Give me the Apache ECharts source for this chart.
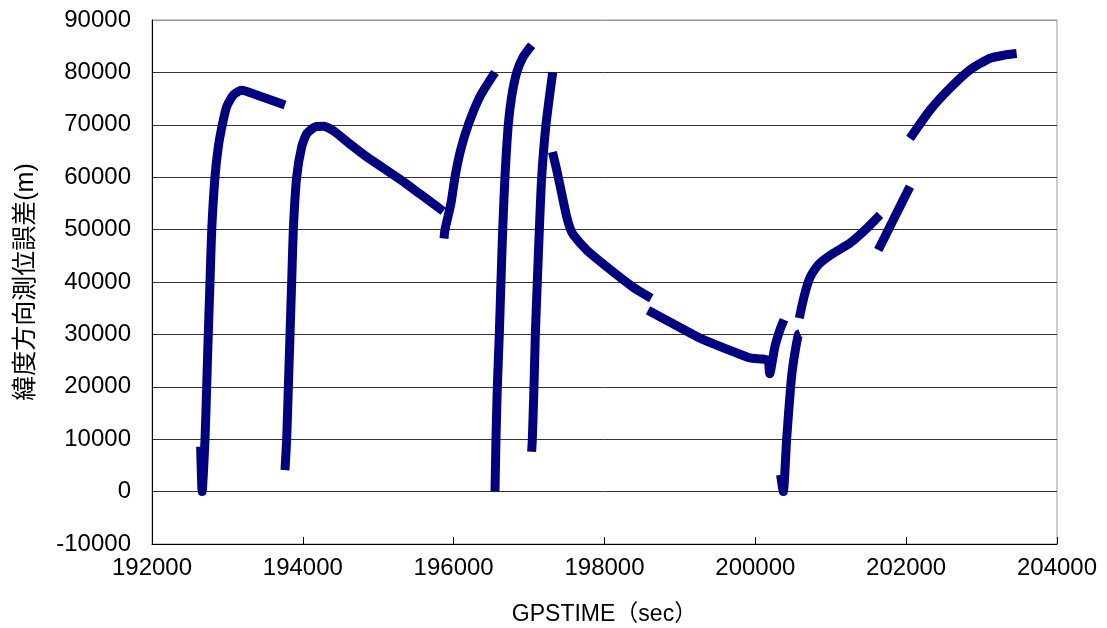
<!DOCTYPE html>
<html>
<head>
<meta charset="utf-8">
<script src="https://cdn.jsdelivr.net/npm/echarts@6/dist/echarts.min.js"></script>
<style>
  html, body { margin: 0; padding: 0; background: #fff; }
  #chart { width: 1107px; height: 628px; }
</style>
</head>
<body>
<div id="chart"></div>
<script>
// GPS time (sec) and latitude-direction position error (m); null marks a gap in the track
const gpsTime = [
  192645, 192665, 192703, 192725, 192746, 192769, 192792, 192835, 192879, 192932, 192990, 193078, 193189, 193388, 193763, null,
  193763, 193786, 193808, 193830, 193852, 193874, 193918, 193985, 194051, 194161, 194271, 194400, 194600, 194846, 195288, 195553, 195862, null,
  195872, 195885, 195964, 196017, 196093, 196194, 196349, 196548, null,
  196548, 196561, 196579, 196605, 196627, 196650, 196680, 196724, 196769, 196836, 196923, 197034, null,
  197034, 197043, 197065, 197083, 197109, 197136, 197167, 197224, 197313, null,
  197310, 197366, 197432, 197498, 197545, 197586, 197763, 198029, 198380, 198620, null,
  198577, 198822, 199266, 199708, 199929, 200100, 200170, 200190, 200260, 200327, 200380, null,
  200335, 200371, 200415, 200468, 200503, 200570, 200592, null,
  200583, 200636, 200690, 200740, 200857, 201034, 201255, 201476, 201653, null,
  201630, 201830, 202050, null,
  202050, 202316, 202581, 202846, 203111, 203300, 203465
];
const latError = [
  8600, 0, 10000, 20000, 30000, 40000, 50000, 60000, 65800, 70000, 73450, 75700, 76600, 75700, 73800, null,
  4100, 10000, 20000, 30000, 40000, 50000, 60000, 65800, 68300, 69600, 69700, 68900, 66600, 63900, 59600, 56800, 53500, null,
  48300, 50000, 55000, 60000, 65200, 70000, 75400, 80000, null,
  0, 10000, 20000, 30000, 40000, 50000, 60000, 70000, 75400, 80000, 83000, 85200, null,
  7600, 10000, 20000, 30000, 40000, 50000, 60000, 70000, 80000, null,
  64800, 61400, 56900, 52500, 50200, 49000, 46100, 42900, 39000, 36900, null,
  34600, 32700, 29300, 26700, 25500, 25300, 25000, 22500, 27700, 30900, 32800, null,
  3200, 0, 10000, 20000, 24500, 30000, 30200, null,
  33100, 36600, 39500, 41300, 43600, 45500, 47400, 50200, 52800, null,
  46100, 51900, 58200, null,
  67400, 72800, 77000, 80500, 82700, 83300, 83600
];

const xName = 'GPSTIME（sec）';
const yName = '緯度方向測位誤差(m)';

// pair up the points; '-' breaks the line between tracks
const points = gpsTime.map((t, i) => (t === null ? ['-', '-'] : [t, latError[i]]));

const font = "'Liberation Sans', Arial, 'Noto Sans CJK JP', sans-serif";
const gridColors = ['#333', '#333', '#333', '#333', '#333', '#333', '#333', '#333', '#333', '#333', '#999'];

const chart = echarts.init(document.getElementById('chart'), null, { renderer: 'canvas' });
chart.setOption({
  animation: false,
  backgroundColor: '#fff',
  grid: {
    left: 152, right: 50, top: 20, bottom: 84,
    outerBoundsMode: 'none',
    containLabel: false,
    show: true, borderColor: '#999', borderWidth: 1, backgroundColor: 'transparent'
  },
  xAxis: {
    type: 'value',
    min: 192000, max: 204000, interval: 2000,
    name: xName,
    nameLocation: 'middle',
    nameGap: 59,
    nameTextStyle: { fontFamily: font, fontSize: 23, color: '#000' },
    axisLine: { show: true, onZero: false, lineStyle: { color: '#000', width: 1 } },
    axisTick: { show: true, inside: true, length: 7, lineStyle: { color: '#000' } },
    axisLabel: { fontFamily: font, fontSize: 24, color: '#000', margin: 12, formatter: (v) => String(v) },
    splitLine: { show: false }
  },
  yAxis: {
    type: 'value',
    min: -10000, max: 90000, interval: 10000,
    name: yName,
    nameLocation: 'middle',
    nameGap: 113,
    nameRotate: 90,
    nameTextStyle: { fontFamily: font, fontSize: 25, color: '#000' },
    axisLine: { show: true, lineStyle: { color: '#000', width: 1 } },
    axisTick: { show: false },
    axisLabel: { fontFamily: font, fontSize: 24, color: '#000', margin: 21, formatter: (v) => String(v) },
    splitLine: { show: true, lineStyle: { color: gridColors, width: 1 } }
  },
  series: [{
    type: 'line',
    data: points,
    showSymbol: false,
    connectNulls: false,
    smooth: 0.2,
    lineStyle: { color: '#000080', width: 9, cap: 'butt', join: 'round' }
  }]
});
</script>
</body>
</html>
